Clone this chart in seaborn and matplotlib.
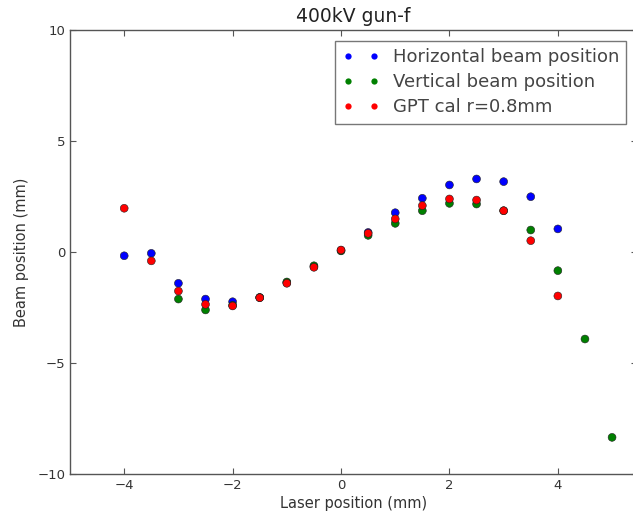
import pandas as pd
import matplotlib
matplotlib.use("Agg")
import matplotlib.pyplot as plt
from matplotlib.lines import Line2D
import seaborn as sns

# Datos (mm)
x_horiz = [-4, -3.5, -3, -2.5, -2, -1.5, -1, -0.5, 0, 0.5, 1, 1.5, 2, 2.5, 3, 3.5, 4]
y_horiz = [-0.17, -0.06, -1.41, -2.12, -2.24, -2.05, -1.38, -0.66, 0.07, 0.88,
           1.77, 2.42, 3.02, 3.29, 3.17, 2.49, 1.04]

x_vert = [-3, -2.5, -2, -1.5, -1, -0.5, 0, 0.5, 1, 1.5, 2, 2.5, 3, 3.5, 4, 4.5, 5]
y_vert = [-2.12, -2.61, -2.40, -2.05, -1.35, -0.62, 0.05, 0.75, 1.29, 1.86,
          2.19, 2.16, 1.86, 0.99, -0.84, -3.92, -8.35]

x_gpt = [-4, -3.5, -3, -2.5, -2, -1.5, -1, -0.5, 0, 0.5, 1, 1.5, 2, 2.5, 3, 3.5, 4]
y_gpt = [1.97, -0.40, -1.76, -2.36, -2.43, -2.06, -1.41, -0.69, 0.09, 0.84,
         1.49, 2.09, 2.39, 2.34, 1.86, 0.51, -1.98]

series_names = ["Horizontal beam position", "Vertical beam position", "GPT cal r=0.8mm"]
series_colors = ["#0000ff", "#008000", "#ff0000"]

sns.set_theme(style="ticks")
plt.rcParams["font.family"] = ["DejaVu Sans"]

df = pd.concat([
    pd.DataFrame({"x": x_horiz, "y": y_horiz, "serie": series_names[0]}),
    pd.DataFrame({"x": x_vert, "y": y_vert, "serie": series_names[1]}),
    pd.DataFrame({"x": x_gpt, "y": y_gpt, "serie": series_names[2]}),
], ignore_index=True)

fig = plt.figure(figsize=(6.33, 5.13), dpi=100)
ax = fig.add_axes([70 / 633, 1 - 474 / 513, 567 / 633, 444 / 513])

sns.scatterplot(data=df, x="x", y="y", hue="serie", palette=dict(zip(series_names, series_colors)),
                s=32, edgecolor="#222222", linewidth=0.4, ax=ax, legend=False)

ax.set_xlim(-5, 5.46)
ax.set_ylim(-10, 10)
ax.set_xticks([-4, -2, 0, 2, 4])
ax.set_yticks([-10, -5, 0, 5, 10])
ax.tick_params(direction="in", top=True, right=True, length=4, width=0.8,
               labelsize=9.5, colors="#555555", labelcolor="#333333")
for sp in ax.spines.values():
    sp.set_color("#555555")
    sp.set_linewidth(1.0)

ax.set_title("400kV gun-f", fontsize=13.5, color="#222222", pad=6)
ax.set_xlabel("Laser position (mm)", fontsize=10.5, color="#333333", labelpad=3)
ax.set_ylabel("Beam position (mm)", fontsize=10.5, color="#333333", labelpad=6)

# Leyenda con dos puntos por entrada (estilo clásico)
handles = [Line2D([], [], linestyle="", marker="o", markersize=4.5, color=c, markeredgewidth=0)
           for c in series_colors]
leg = ax.legend(handles, series_names, loc="upper right", numpoints=2,
                fontsize=13, fancybox=False, frameon=True, borderaxespad=0.6,
                handlelength=2.04, labelspacing=0.4, handletextpad=0.75, borderpad=0.4)
leg.get_frame().set_edgecolor("#555555")
leg.get_frame().set_linewidth(1.0)
for t in leg.get_texts():
    t.set_color("#444444")

fig.savefig("out.png", dpi=100)
